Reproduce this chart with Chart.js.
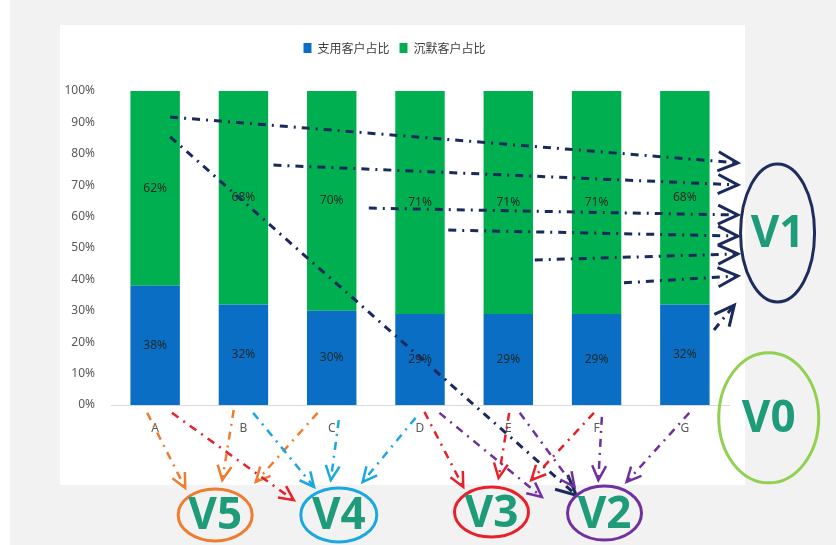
<!DOCTYPE html>
<html>
<head>
<meta charset="utf-8">
<script src="https://cdn.jsdelivr.net/npm/chart.js@4.4.1/dist/chart.umd.min.js"></script>
<style>
  html, body { margin: 0; padding: 0; background: #f2f2f2; }
  #wrap { width: 836px; height: 545px; }
</style>
</head>
<body>
<div id="wrap"><canvas id="customerChart" width="836" height="545"></canvas></div>
<script>
// chart data
const categories = ['A', 'B', 'C', 'D', 'E', 'F', 'G'];
const activeShare = [38, 32, 30, 29, 29, 29, 32];   // 支用客户占比
const silentShare = [62, 68, 70, 71, 71, 71, 68];   // 沉默客户占比
const seriesNames = ['支用客户占比', '沉默客户占比'];

// hand-drawn annotations, in data units: [category index, percent]
const navyArrows = [
    [[0.17, 91.7], [6.60, 77.1]],
    [[1.34, 76.4], [6.60, 70.1]],
    [[2.42, 62.7], [6.60, 60.5]],
    [[3.32, 55.7], [6.60, 53.8]],
    [[4.30, 46.2], [6.60, 48.1]],
    [[5.31, 38.9], [6.60, 41.1]],
    [[6.33, 23.9], [6.56, 31.8]],
    [[0.17, 85.4], [4.77, -28.7]]
];
const bottomArrows = [
    ['#ED7D31', [-0.09, -2.5], [0.34, -26.4]],
    ['#ED7D31', [0.89, -1.6], [0.76, -23.9]],
    ['#ED7D31', [1.84, -2.5], [1.14, -24.5]],
    ['#E8202A', [0.19, -2.5], [1.57, -30.3]],
    ['#E8202A', [3.05, -2.2], [3.49, -26.1]],
    ['#E8202A', [4.01, -2.5], [3.89, -23.2]],
    ['#E8202A', [4.97, -2.5], [4.26, -23.9]],
    ['#1BA8E0', [1.11, -2.5], [1.80, -26.1]],
    ['#1BA8E0', [2.08, -4.8], [1.99, -23.9]],
    ['#1BA8E0', [2.95, -4.1], [2.35, -24.5]],
    ['#7030A0', [3.22, -2.5], [4.38, -29.3]],
    ['#7030A0', [4.13, -2.5], [4.75, -26.1]],
    ['#7030A0', [5.06, -3.8], [5.02, -23.9]],
    ['#7030A0', [6.05, -2.5], [5.34, -24.5]]
];
const groupLabels = ['V5', 'V4', 'V3', 'V2', 'V0', 'V1'];
const groupCenters = [[0.68, -35.0], [2.08, -35.0], [3.81, -34.1], [5.09, -34.4], [6.95, -4.1], [7.05, 54.8]];
const groupColors = ['#ED7D31', '#1BA8E0', '#E8202A', '#7030A0', '#92D050', '#1F2D5E'];
const groupRadii = [[37, 26], [38, 27], [37, 25], [37, 27], [50, 65], [37, 69]];

function arrow(ctx, a, b, color, width, head, dash) {
    ctx.save();
    ctx.strokeStyle = color;
    ctx.lineWidth = width;
    ctx.lineCap = 'butt';
    ctx.setLineDash(dash);
    ctx.beginPath();
    ctx.moveTo(a.x, a.y);
    ctx.lineTo(b.x, b.y);
    ctx.stroke();
    ctx.setLineDash([]);
    const ang = Math.atan2(b.y - a.y, b.x - a.x);
    ctx.beginPath();
    ctx.moveTo(b.x - head * Math.cos(ang - 0.45), b.y - head * Math.sin(ang - 0.45));
    ctx.lineTo(b.x, b.y);
    ctx.lineTo(b.x - head * Math.cos(ang + 0.45), b.y - head * Math.sin(ang + 0.45));
    ctx.stroke();
    ctx.restore();
}

const backdrop = {
    id: 'backdrop',
    beforeDraw(chart) {
        const ctx = chart.ctx;
        ctx.save();
        ctx.fillStyle = '#ffffff';
        ctx.fillRect(0, 0, 10, 545);
        ctx.fillRect(60, 25, 685, 460);
        ctx.restore();
    }
};

const legendGap = {
    id: 'legendGap',
    beforeInit(chart) {
        const fit = chart.legend.fit;
        chart.legend.fit = function () {
            fit.call(this);
            this.height = 59;
        };
    }
};

const valueLabels = {
    id: 'valueLabels',
    afterDatasetsDraw(chart) {
        const ctx = chart.ctx;
        ctx.save();
        ctx.font = '12px "Noto Sans", sans-serif';
        ctx.textAlign = 'center';
        ctx.textBaseline = 'middle';
        ctx.fillStyle = '#1f2a26';
        chart.data.datasets.forEach((ds, di) => {
            chart.getDatasetMeta(di).data.forEach((bar, i) => {
                ctx.fillText(ds.data[i] + '%', bar.x, (bar.y + bar.base) / 2);
            });
        });
        ctx.restore();
    }
};

const sketch = {
    id: 'sketch',
    afterDraw(chart) {
        const ctx = chart.ctx;
        const xs = chart.scales.x, ys = chart.scales.y;
        const P = p => ({ x: xs.getPixelForValue(p[0]), y: ys.getPixelForValue(p[1]) });

        navyArrows.forEach(([a, b]) => arrow(ctx, P(a), P(b), '#1B2A5C', 3, 22, [8, 6, 2, 6]));
        bottomArrows.forEach(([c, a, b]) => arrow(ctx, P(a), P(b), c, 2.5, 16, [8, 6, 2, 6]));

        groupLabels.forEach((t, k) => {
            const c = P(groupCenters[k]);
            ctx.save();
            ctx.strokeStyle = groupColors[k];
            ctx.lineWidth = 3;
            ctx.beginPath();
            ctx.ellipse(c.x, c.y, groupRadii[k][0], groupRadii[k][1], 0, 0, Math.PI * 2);
            ctx.stroke();
            ctx.fillStyle = '#1E9C7A';
            ctx.font = 'bold 44px "Open Sans", sans-serif';
            ctx.textAlign = 'center';
            ctx.textBaseline = 'middle';
            ctx.fillText(t, c.x, c.y + 2);
            ctx.restore();
        });
    }
};

const ctx = document.getElementById('customerChart').getContext('2d');

new Chart(ctx, {
    type: 'bar',
    data: {
        labels: categories,
        datasets: [{
            label: seriesNames[0],
            data: activeShare,
            backgroundColor: '#0A6EC4',
        }, {
            label: seriesNames[1],
            data: silentShare,
            backgroundColor: '#00B050',
        }]
    },
    options: {
        responsive: false,
        animation: false,
        layout: {
            padding: { left: 60, right: 107, top: 32, bottom: 0 }
        },
        datasets: {
            bar: { categoryPercentage: 1, barPercentage: 0.56 }
        },
        scales: {
            x: {
                stacked: true,
                grid: { display: false },
                border: { color: '#d9d9d9' },
                ticks: {
                    color: '#595959',
                    padding: 8,
                    font: { family: '"Noto Sans", sans-serif', size: 12 }
                },
                afterFit: s => { s.height = 140; }
            },
            y: {
                stacked: true,
                min: 0,
                max: 100,
                grid: { display: false },
                border: { display: false },
                ticks: {
                    stepSize: 10,
                    color: '#595959',
                    padding: 8,
                    font: { family: '"Noto Sans", sans-serif', size: 12 },
                    callback: v => v + '%'
                },
                afterFit: s => { s.width = 51; }
            }
        },
        plugins: {
            legend: {
                position: 'top',
                labels: {
                    boxWidth: 8,
                    boxHeight: 10,
                    padding: 10,
                    color: '#404040',
                    font: { family: '"Noto Sans CJK SC", sans-serif', size: 12 }
                }
            },
            tooltip: { enabled: false }
        }
    },
    plugins: [backdrop, legendGap, valueLabels, sketch]
});
</script>
</body>
</html>
